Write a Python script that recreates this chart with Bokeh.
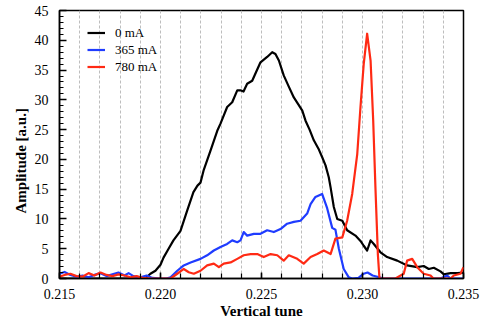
from bokeh.plotting import figure
from bokeh.models import Range1d, FixedTicker, Legend, LegendItem, Title, CustomJSTickFormatter
from bokeh.embed import file_html
from bokeh.resources import INLINE

# ---- data ----
tune_0 = [0.21500, 0.21901, 0.21931, 0.21950, 0.21975, 0.22000, 0.22015, 0.22040, 0.22064,
          0.22099, 0.22132, 0.22163, 0.22183, 0.22198, 0.22213, 0.22248, 0.22281, 0.22297,
          0.22330, 0.22355, 0.22380, 0.22396, 0.22411, 0.22429, 0.22454, 0.22475, 0.22495,
          0.22528, 0.22553, 0.22569, 0.22586, 0.22610, 0.22634, 0.22660, 0.22702, 0.22718,
          0.22738, 0.22759, 0.22782, 0.22800, 0.22817, 0.22833, 0.22842, 0.22858, 0.22875,
          0.22900, 0.22924, 0.22965, 0.22990, 0.23006, 0.23023, 0.23040, 0.23056, 0.23089,
          0.23122, 0.23172, 0.23221, 0.23271, 0.23303, 0.23328, 0.23353, 0.23386, 0.23403,
          0.23436, 0.23470, 0.23500]
amp_0 = [0.0, 0.0, 0.2, 0.8, 1.3, 2.3, 3.5, 5.0, 6.4,
         8.0, 11.4, 14.5, 15.6, 16.1, 18.1, 21.5, 24.8, 26.0,
         28.8, 29.6, 31.6, 31.6, 31.4, 32.7, 33.2, 34.8, 36.3,
         37.2, 38.0, 37.7, 36.6, 34.1, 32.3, 30.4, 28.2, 26.5,
         25.0, 23.2, 21.8, 20.4, 19.0, 17.0, 15.3, 12.0, 10.0,
         9.7, 8.1, 7.2, 6.3, 5.5, 4.7, 6.4, 5.8, 4.4,
         3.6, 3.0, 2.2, 1.9, 2.1, 1.6, 1.8, 1.2, 0.7,
         0.9, 0.9, 1.0]

tune_365 = [0.21500, 0.21525, 0.21554, 0.21584, 0.21614, 0.21644, 0.21673, 0.21703, 0.21733,
            0.21762, 0.21792, 0.21822, 0.21842, 0.21866, 0.21901, 0.21931, 0.21960, 0.22000,
            0.22030, 0.22050, 0.22083, 0.22115, 0.22149, 0.22198, 0.22231, 0.22264, 0.22297,
            0.22330, 0.22355, 0.22380, 0.22396, 0.22412, 0.22429, 0.22462, 0.22495, 0.22528,
            0.22561, 0.22594, 0.22627, 0.22660, 0.22693, 0.22726, 0.22743, 0.22767, 0.22800,
            0.22825, 0.22850, 0.22866, 0.22883, 0.22907, 0.22932, 0.22950, 0.22980, 0.23006,
            0.23025, 0.23050, 0.23074, 0.23104, 0.23386, 0.23419, 0.23436, 0.23500]
amp_365 = [0.8, 1.1, 0.6, 0.3, 0.5, 0.2, 0.6, 0.9, 0.4,
           0.7, 1.0, 0.5, 0.9, 0.4, 0.2, 0.5, 0.1, 0.0,
           0.0, 0.2, 1.3, 2.2, 2.7, 3.3, 3.9, 4.7, 5.3,
           5.8, 6.4, 6.1, 6.4, 7.8, 7.2, 7.5, 7.5, 8.1,
           7.8, 8.3, 9.2, 9.5, 9.7, 10.9, 12.5, 13.7, 14.2,
           11.8, 8.5, 8.2, 5.0, 1.6, 0.2, 0.0, 0.1, 0.8,
           1.0, 0.5, 0.3, 0.0, 0.0, 0.5, 0.0, 0.0]

tune_780 = [0.21500, 0.21525, 0.21554, 0.21584, 0.21614, 0.21644, 0.21673, 0.21703, 0.21733,
            0.21762, 0.21792, 0.21822, 0.21851, 0.21881, 0.21911, 0.21950, 0.22050, 0.22083,
            0.22115, 0.22140, 0.22165, 0.22198, 0.22231, 0.22264, 0.22289, 0.22313, 0.22347,
            0.22380, 0.22412, 0.22446, 0.22479, 0.22511, 0.22545, 0.22578, 0.22610, 0.22635,
            0.22677, 0.22709, 0.22743, 0.22776, 0.22808, 0.22842, 0.22866, 0.22900, 0.22924,
            0.22949, 0.22974, 0.22990, 0.23006, 0.23023, 0.23040, 0.23053, 0.23064, 0.23076,
            0.23084, 0.23163, 0.23178, 0.23204, 0.23221, 0.23246, 0.23271, 0.23303, 0.23337,
            0.23351, 0.23436, 0.23452, 0.23485, 0.23500]
amp_780 = [0.3, 0.6, 0.8, 0.4, 0.3, 0.9, 0.5, 1.0, 0.6,
           0.4, 0.7, 0.5, 0.2, 0.4, 0.1, 0.0, 0.0, 0.8,
           1.6, 1.05, 0.8, 1.3, 2.2, 2.5, 1.9, 2.5, 2.7,
           3.3, 3.9, 4.1, 4.1, 3.6, 4.1, 3.9, 3.0, 3.9,
           3.3, 2.5, 3.6, 4.1, 4.7, 4.1, 6.7, 6.9, 9.7,
           14.2, 20.9, 28.8, 36.0, 41.1, 36.6, 26.5, 15.3, 4.1,
           0.0, 0.0, 0.3, 0.8, 3.0, 3.3, 1.9, 0.8, 0.5,
           0.0, 0.0, 0.5, 0.8, 1.9]

series_labels = ["0 mA", "365 mA", "780 mA"]
series_colors = ["#000000", "#1f3cff", "#ff2a14"]

x_major = [0.215, 0.220, 0.225, 0.230, 0.235]
x_minor = [round(0.215 + 0.001 * i, 3) for i in range(21)]
y_major = [0, 5, 10, 15, 20, 25, 30, 35, 40, 45]
y_minor = list(range(0, 46))

FONT = "Liberation Serif"

p = figure(width=483, height=323, output_backend="svg", toolbar_location=None,
           x_range=Range1d(0.215, 0.235), y_range=Range1d(0, 45),
           min_border_left=59, min_border_right=20, min_border_top=10, min_border_bottom=45)

p.background_fill_color = "white"
p.border_fill_color = "white"
p.outline_line_color = "black"
p.outline_line_width = 1.5

p.ygrid.visible = False
p.xgrid.ticker = FixedTicker(ticks=x_minor[1:-1])
p.xgrid.grid_line_color = "#bdbdbd"
p.xgrid.grid_line_width = 1
p.xgrid.grid_line_dash = "3 2"

p.xaxis.ticker = FixedTicker(ticks=x_major, minor_ticks=x_minor)
p.yaxis.ticker = FixedTicker(ticks=y_major, minor_ticks=y_minor)
p.xaxis.formatter = CustomJSTickFormatter(code="return tick.toFixed(3);")

for ax in (p.xaxis[0], p.yaxis[0]):
    ax.axis_line_color = "black"
    ax.axis_line_width = 1.5
    ax.major_tick_out = 0
    ax.minor_tick_out = 0
    ax.major_tick_line_color = "black"
    ax.minor_tick_line_color = "black"
    ax.major_tick_line_width = 1.5
    ax.minor_tick_line_width = 1.2
    ax.major_label_text_font = FONT
    ax.major_label_text_font_size = "14px"
    ax.major_label_text_color = "black"
    ax.axis_label_text_font = FONT
    ax.axis_label_text_font_style = "bold"
    ax.axis_label_text_font_size = "15px"
    ax.axis_label_text_color = "black"

p.xaxis.major_tick_in = 6
p.xaxis.minor_tick_in = 5
p.yaxis.major_tick_in = 7
p.yaxis.minor_tick_in = 4
p.xaxis.major_label_standoff = 10
p.yaxis.major_label_standoff = 11
p.xaxis.axis_label = "Vertical tune"
p.xaxis.axis_label_standoff = 1
p.yaxis.axis_label = None

renderers = []
for xs, ys, col in ((tune_0, amp_0, series_colors[0]),
                    (tune_365, amp_365, series_colors[1]),
                    (tune_780, amp_780, series_colors[2])):
    r = p.line(xs, ys, line_color=col, line_width=2.2, line_join="round")
    renderers.append(r)

legend = Legend(items=[LegendItem(label=lab, renderers=[r]) for lab, r in zip(series_labels, renderers)],
                location=(28, 203), orientation="vertical")
legend.border_line_alpha = 0
legend.background_fill_alpha = 0
legend.padding = 0
legend.margin = 0
legend.spacing = 0
legend.glyph_width = 18
legend.glyph_height = 17
legend.label_height = 17
legend.label_standoff = 10
legend.label_text_font = FONT
legend.label_text_font_size = "13px"
legend.label_text_color = "black"
legend.label_text_baseline = "middle"
p.add_layout(legend, "center")

ytitle = Title(text="Amplitude [a.u.]", align="left", offset=65,
               text_font=FONT, text_font_style="bold", text_font_size="15px",
               text_color="black", standoff=6)
p.add_layout(ytitle, "left")

open("out.html", "w").write(file_html(p, INLINE))
